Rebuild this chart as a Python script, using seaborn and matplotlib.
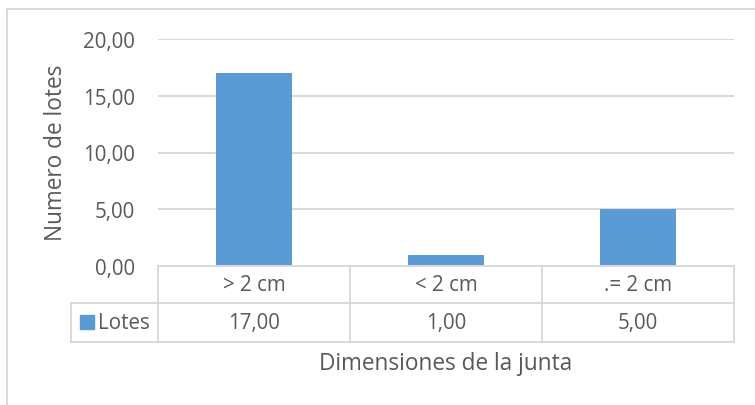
import matplotlib
matplotlib.use("Agg")
import matplotlib.pyplot as plt
from matplotlib.lines import Line2D
from matplotlib.patches import Rectangle
import seaborn as sns
import pandas as pd

categories = ["> 2 cm", "< 2 cm", ".= 2 cm"]
lotes = [17.0, 1.0, 5.0]
series_name = "Lotes"
yticks = [0, 5, 10, 15, 20]
y_title = "Numero de lotes"
x_title = "Dimensiones de la junta"

BLUE = "#5B9BD5"
GRID = "#D9D9D9"
TEXT = "#595959"
FS = 14.8
FS_TITLE = 16.3

sns.set_theme(style="white")
plt.rcParams["font.family"] = ["Open Sans", "DejaVu Sans"]

W, H = 755, 406
fig = plt.figure(figsize=(W / 100, H / 100), dpi=100)


def fx(px):
    return px / W


def fy(py):
    return 1 - py / H


# plot area in pixel terms
left, right, top, bottom = 158, 734, 40, 267
ax = fig.add_axes([fx(left), fy(bottom), fx(right) - fx(left), fy(top) - fy(bottom)])

df = pd.DataFrame({"cat": categories, "val": lotes})
sns.barplot(data=df, x="cat", y="val", color=BLUE, saturation=1, width=0.4,
            linewidth=0, ax=ax, zorder=3)
ax.set_xlim(-0.5, len(categories) - 0.5)
ax.set_ylim(0, 20)
ax.set_yticks(yticks)
ax.set_yticklabels([f"{v:.2f}".replace(".", ",") for v in yticks], color=TEXT, fontsize=FS)
ax.tick_params(axis="y", length=0, pad=16.5)
ax.set_xticks([])
ax.set_xlabel("")
ax.set_ylabel("")
for s in ax.spines.values():
    s.set_visible(False)
for v in yticks:
    ax.axhline(v, color=GRID, lw=1.4, zorder=1)

# outer chart border (top and left edges)
fig.add_artist(Line2D([fx(7), 1], [fy(10), fy(10)], color=GRID, lw=1.4))
fig.add_artist(Line2D([fx(7), fx(7)], [fy(10), 0], color=GRID, lw=1.4))

# data table under the axis
row1, row2, row3 = 267, 304, 343
col_edges = [left + i * (right - left) / len(categories) for i in range(len(categories) + 1)]
leg_left = 71
lw = 1.4
fig.add_artist(Line2D([fx(left), fx(right)], [fy(row1)] * 2, color=GRID, lw=lw))
fig.add_artist(Line2D([fx(leg_left), fx(right)], [fy(row2)] * 2, color=GRID, lw=lw))
fig.add_artist(Line2D([fx(leg_left), fx(right)], [fy(row3)] * 2, color=GRID, lw=lw))
for x in col_edges:
    fig.add_artist(Line2D([fx(x)] * 2, [fy(row1), fy(row3)], color=GRID, lw=lw))
fig.add_artist(Line2D([fx(leg_left)] * 2, [fy(row2), fy(row3)], color=GRID, lw=lw))

for i, (c, v) in enumerate(zip(categories, lotes)):
    cx = (col_edges[i] + col_edges[i + 1]) / 2
    fig.text(fx(cx), fy((row1 + row2) / 2), c, ha="center", va="center", color=TEXT, fontsize=FS)
    fig.text(fx(cx), fy((row2 + row3) / 2), f"{v:.2f}".replace(".", ","), ha="center", va="center",
             color=TEXT, fontsize=FS)

# legend key inside the table
fig.add_artist(Rectangle((fx(80), fy(330)), fx(14), fy(316) - fy(330), color=BLUE, transform=fig.transFigure))
fig.text(fx(98), fy((row2 + row3) / 2), series_name, ha="left", va="center", color=TEXT, fontsize=FS)

# axis titles
fig.text(fx(56), fy(153), y_title, rotation=90, ha="center", va="center", color=TEXT, fontsize=FS_TITLE)
fig.text(fx(446), fy(364), x_title, ha="center", va="center", color=TEXT, fontsize=FS_TITLE)

fig.savefig("out.png", dpi=100, facecolor="white")
